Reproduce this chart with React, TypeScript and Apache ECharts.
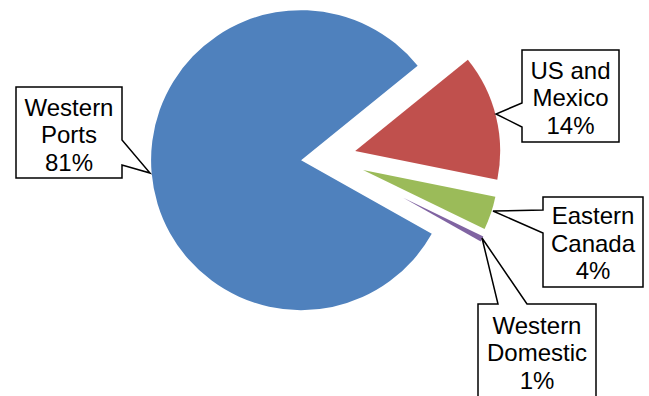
import React, { useEffect, useRef } from "react";
import * as echarts from "echarts";

// ---- data ----
const categories = ["US and Mexico", "Eastern Canada", "Western Domestic", "Western Ports"];
const shares = [14, 4, 1, 81];

// ---- style / layout ----
const colors = ["#C0504D", "#9BBB59", "#8064A2", "#4F81BD"];
const explode = [29, 38, 86, 26];
const radii = [145, 135, 89, 150];
const pieCenter = [327, 158];
const startFromTop = 51; // degrees clockwise from 12 o'clock

// callout boxes: [left, top, right, bottom], pointer side & geometry
const callouts = [
  { box: [522, 50, 619, 142], side: "left", base: [103, 127], tip: [496, 114] },
  { box: [543, 197, 643, 287], side: "left", base: [210, 233], tip: [493, 211] },
  { box: [478, 304, 596, 402], side: "top", base: [498, 527], tip: [482, 238] },
  { box: [16, 87, 122, 178], side: "right", base: [140, 165], tip: [150, 173] },
];
const textMid = [
  [570.5, 97.5],
  [593, 243],
  [537, 352.5],
  [69, 134.5],
];

function calloutPoints(c: any): number[][] {
  const [l, t, r, b] = c.box;
  if (c.side === "left") {
    return [[l, t], [r, t], [r, b], [l, b], [l, c.base[1]], c.tip, [l, c.base[0]]];
  }
  if (c.side === "right") {
    return [[l, t], [r, t], [r, c.base[0]], c.tip, [r, c.base[1]], [r, b], [l, b]];
  }
  return [[l, t], [c.base[0], t], c.tip, [c.base[1], t], [r, t], [r, b], [l, b]];
}

function splitName(name: string): string {
  const k = name.lastIndexOf(" ");
  return k < 0 ? name : name.slice(0, k) + "\n" + name.slice(k + 1);
}

export default function App() {
  const ref = useRef<HTMLDivElement>(null);
  useEffect(() => {
    if (!ref.current) return;
    const chart = echarts.init(ref.current, undefined, { renderer: "svg" });
    const total = shares.reduce((a, b) => a + b, 0);
    let cum = 0;
    const series = categories.map((_, i) => {
      const a0 = startFromTop + (cum / total) * 360;
      const a1 = a0 + (shares[i] / total) * 360;
      cum += shares[i];
      const mid = (((a0 + a1) / 2) * Math.PI) / 180;
      const cx = pieCenter[0] + explode[i] * Math.sin(mid);
      const cy = pieCenter[1] - explode[i] * Math.cos(mid);
      return {
        type: "pie",
        silent: true,
        startAngle: 90 - startFromTop,
        clockwise: true,
        center: [cx, cy],
        radius: radii[i],
        label: { show: false },
        labelLine: { show: false },
        emphasis: { disabled: true },
        data: categories.map((name, j) => ({
          name,
          value: shares[j],
          itemStyle: { color: j === i ? colors[j] : "rgba(0,0,0,0)", borderWidth: 0 },
        })),
      };
    });
    const graphic: any[] = [];
    categories.forEach((name, i) => {
      graphic.push({
        type: "polygon",
        z: 10,
        shape: { points: calloutPoints(callouts[i]) },
        style: { fill: "#ffffff", stroke: "#000000", lineWidth: 1.5 },
      });
      const pct = Math.round((shares[i] / total) * 100);
      graphic.push({
        type: "text",
        z: 11,
        x: textMid[i][0],
        y: textMid[i][1],
        style: {
          text: splitName(name) + "\n" + pct + "%",
          align: "center",
          verticalAlign: "middle",
          fontFamily: '"Liberation Sans", Arial, sans-serif',
          fontSize: 24,
          lineHeight: 27.5,
          fill: "#000000",
        },
      });
    });
    chart.setOption({
      animation: false,
      backgroundColor: "#ffffff",
      series,
      graphic,
    });
    return () => chart.dispose();
  }, []);
  return (
    <div
      ref={ref}
      style={{ position: "fixed", left: 0, top: 0, width: 649, height: 396, background: "#fff" }}
    />
  );
}
